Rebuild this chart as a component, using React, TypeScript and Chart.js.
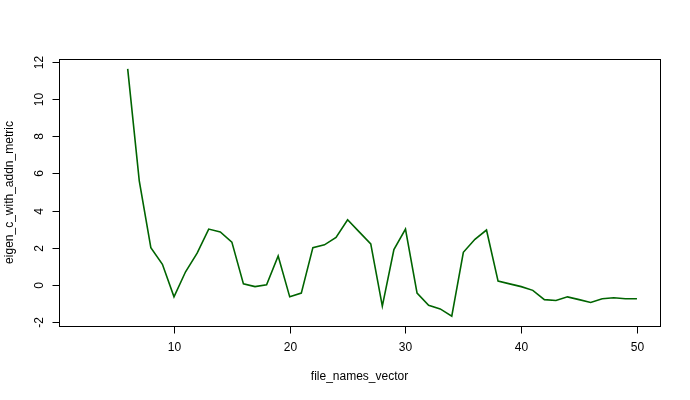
import React, { useEffect, useRef } from "react";
import { Chart, registerables } from "chart.js";
Chart.register(...registerables);

const xValues = [6,7,8,9,10,11,12,13,14,15,16,17,18,19,20,21,22,23,24,25,26,27,28,29,30,31,32,33,34,35,36,37,38,39,40,41,42,43,44,45,46,47,48,49,50];
const yValues = [11.63,5.6,2.0,1.1,-0.65,0.7,1.7,3.0,2.85,2.3,0.05,-0.1,0,1.55,-0.65,-0.45,2.0,2.15,2.55,3.5,2.85,2.2,-1.15,1.9,3.0,-0.45,-1.1,-1.3,-1.69,1.75,2.45,2.95,0.2,0.05,-0.1,-0.3,-0.8,-0.85,-0.65,-0.8,-0.95,-0.75,-0.7,-0.75,-0.75];
const xTicks = [10,20,30,40,50];
const yTicks = [-2,0,2,4,6,8,10,12];
const xTitle = "file_names_vector";
const yTitle = "eigen_c_with_addn_metric";

const rAxes = {
  id: "rAxes",
  afterDraw(chart: any) {
    const { ctx, chartArea: a, scales } = chart;
    const xs = scales.x, ys = scales.y;
    ctx.save();
    ctx.strokeStyle = "#000";
    ctx.lineWidth = 1;
    ctx.strokeRect(a.left + 0.5, a.top + 0.5, a.right - a.left, a.bottom - a.top);
    ctx.fillStyle = "#000";
    ctx.font = "12px 'Liberation Sans', Arial, sans-serif";
    const x0 = xs.getPixelForValue(xTicks[0]), x1 = xs.getPixelForValue(xTicks[xTicks.length - 1]);
    const by = a.bottom + 0.5;
    ctx.beginPath(); ctx.moveTo(x0, by); ctx.lineTo(x1, by); ctx.stroke();
    ctx.textAlign = "center"; ctx.textBaseline = "top";
    xTicks.forEach(t => {
      const px = Math.round(xs.getPixelForValue(t)) + 0.5;
      ctx.beginPath(); ctx.moveTo(px, by); ctx.lineTo(px, by + 7); ctx.stroke();
      ctx.fillText(String(t), px, by + 15);
    });
    ctx.fillText(xTitle, (a.left + a.right) / 2, by + 44);
    const y0 = ys.getPixelForValue(yTicks[0]), y1 = ys.getPixelForValue(yTicks[yTicks.length - 1]);
    const lx = a.left + 0.5;
    ctx.beginPath(); ctx.moveTo(lx, y0); ctx.lineTo(lx, y1); ctx.stroke();
    yTicks.forEach(t => {
      const py = Math.round(ys.getPixelForValue(t)) + 0.5;
      ctx.beginPath(); ctx.moveTo(lx, py); ctx.lineTo(lx - 7, py); ctx.stroke();
      ctx.save(); ctx.translate(lx - 14, py); ctx.rotate(-Math.PI / 2);
      ctx.textAlign = "center"; ctx.textBaseline = "bottom";
      ctx.fillText(String(t), 0, 0); ctx.restore();
    });
    ctx.save(); ctx.translate(10, (a.top + a.bottom) / 2); ctx.rotate(-Math.PI / 2);
    ctx.textAlign = "center"; ctx.textBaseline = "middle";
    ctx.fillText(yTitle, 0, 0); ctx.restore();
    ctx.restore();
  },
};

export default function App() {
  const ref = useRef<HTMLCanvasElement>(null);
  useEffect(() => {
    const chart = new Chart(ref.current!, {
      type: "line",
      data: {
        datasets: [{
          data: xValues.map((x, i) => ({ x, y: yValues[i] })),
          borderColor: "#006400", borderWidth: 1.6, pointRadius: 0, tension: 0, fill: false,
        }],
      },
      options: {
        animation: false, responsive: false,
        layout: { padding: { left: 59, top: 59, right: 30, bottom: 74 } },
        plugins: { legend: { display: false }, tooltip: { enabled: false } },
        scales: {
          x: { type: "linear", min: 0.065, max: 51.99, display: false },
          y: { type: "linear", min: -2.22, max: 12.16, display: false },
        },
      },
      plugins: [rAxes],
    });
    return () => chart.destroy();
  }, []);
  return (
    <div style={{ position: "fixed", left: 0, top: 0, width: 690, height: 400, background: "#fff" }}>
      <canvas ref={ref} width={690} height={400} />
    </div>
  );
}
